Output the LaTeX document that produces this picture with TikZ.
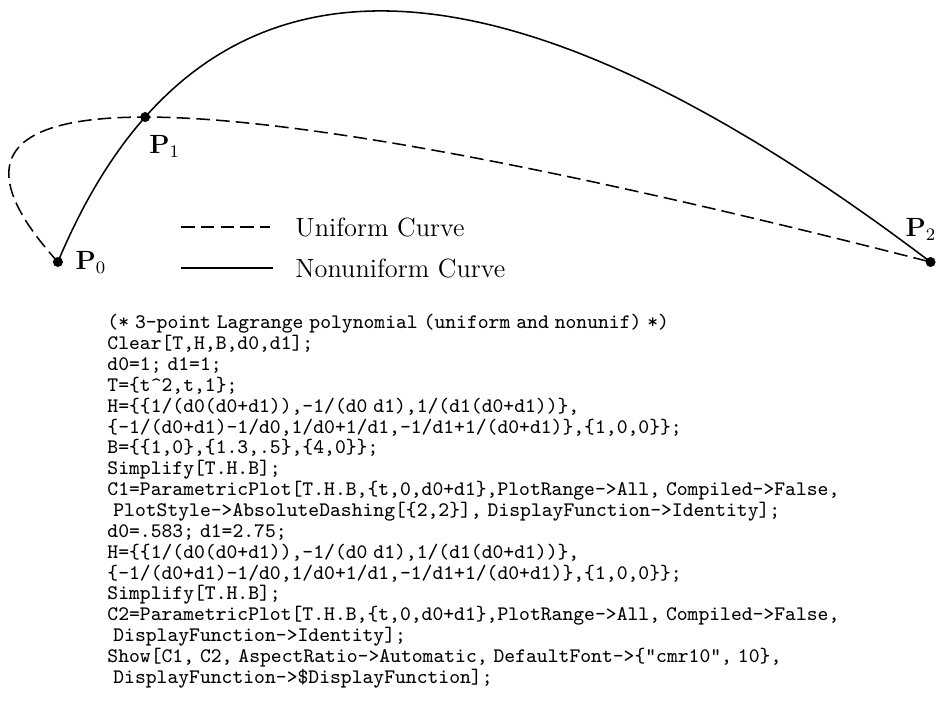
\documentclass[tikz,border=0pt]{standalone}
\usetikzlibrary{positioning}
\newcommand{\codeind}{\hspace*{2.7pt}}
\newcommand{\codefont}{\fontsize{9.4}{9.5}\selectfont\ttfamily}
% narrow interword space for the listing font
\AtBeginDocument{{\codefont\global\fontdimen2\font=2.7pt}}

\begin{document}
\begin{tikzpicture}[
    x=0.016cm, y=-0.016cm,
    curve/.style={line width=0.7pt},
    uniform/.style={curve, dash pattern=on 6.2pt off 2.8pt},
    nonuniform/.style={curve},
    dot/.style={circle, fill=black, minimum size=0.16cm, inner sep=0pt},
    ptlabel/.style={font=\large, inner sep=0pt},
    legend/.style={font=\large, inner sep=0pt},
    code/.style={font=\codefont, align=left, inner sep=0pt, anchor=north west},
    declare function={
        lagA(\s,\a,\b)=(\s-\a)*(\s-\a-\b)/(\a*(\a+\b));
        lagB(\s,\a,\b)=\s*(\a+\b-\s)/(\a*\b);
        lagC(\s,\a,\b)=\s*(\s-\a)/((\a+\b)*\b);
    },
]
\useasboundingbox (0,0) rectangle (946,714);

% the two quadratic curves, in data units
\begin{scope}[shift={(-233,262)}, x=4.656cm, y=4.64cm]
\foreach \da/\db/\sty in {1/1/uniform, 0.583/2.75/nonuniform}{
    \pgfmathsetmacro\dend{\da+\db}
    \draw[\sty] plot[domain=0:\dend, samples=100, smooth, variable=\s]
        ({lagA(\s,\da,\db) + 1.3*lagB(\s,\da,\db) + 4*lagC(\s,\da,\db)},
         {0.5*lagB(\s,\da,\db)});
}
\node[dot] (p0) at (1,0) {};
\node[dot] (p1) at (1.3,0.5) {};
\node[dot] (p2) at (4,0) {};
\node[ptlabel, right=0.19cm of p0] (l0) {$\mathbf{P}_0$};
\node[ptlabel, below right=0.23cm and 0cm of p1] (l1) {$\mathbf{P}_1$};
\node[ptlabel, above left=0.28cm and -0.16cm of p2] (l2) {$\mathbf{P}_2$};
\end{scope}

% legend
\coordinate (ua) at (181,227);
\coordinate (ub) at (270,227);
\coordinate (na) at (181,268);
\coordinate (nb) at (273,268);
\draw[uniform] (ua) -- (ub);
\draw[nonuniform] (na) -- (nb);
\node[legend, right=0.4cm of ub] (ut) {Uniform Curve};
\node[legend, right=0.35cm of nb] (nt) {Nonuniform Curve};

% mathematica source
\node[code] (src) at (107,314) {%
(* 3-point Lagrange polynomial (uniform and nonunif) *)\\
Clear[T,H,B,d0,d1];\\
d0=1; d1=1;\\
T=\{t\textasciicircum2,t,1\};\\
H=\{\{1/(d0(d0+d1)),-1/(d0 d1),1/(d1(d0+d1))\},\\
\{-1/(d0+d1)-1/d0,1/d0+1/d1,-1/d1+1/(d0+d1)\},\{1,0,0\}\};\\
B=\{\{1,0\},\{1.3,.5\},\{4,0\}\};\\
Simplify[T.H.B];\\
C1=ParametricPlot[T.H.B,\{t,0,d0+d1\},PlotRange->All, Compiled->False,\\
\codeind PlotStyle->AbsoluteDashing[\{2,2\}], DisplayFunction->Identity];\\
d0=.583; d1=2.75;\\
H=\{\{1/(d0(d0+d1)),-1/(d0 d1),1/(d1(d0+d1))\},\\
\{-1/(d0+d1)-1/d0,1/d0+1/d1,-1/d1+1/(d0+d1)\},\{1,0,0\}\};\\
Simplify[T.H.B];\\
C2=ParametricPlot[T.H.B,\{t,0,d0+d1\},PlotRange->All, Compiled->False,\\
\codeind DisplayFunction->Identity];\\
Show[C1, C2, AspectRatio->Automatic, DefaultFont->\{"cmr10", 10\},\\
\codeind DisplayFunction->\$DisplayFunction];};

\end{tikzpicture}
\end{document}
